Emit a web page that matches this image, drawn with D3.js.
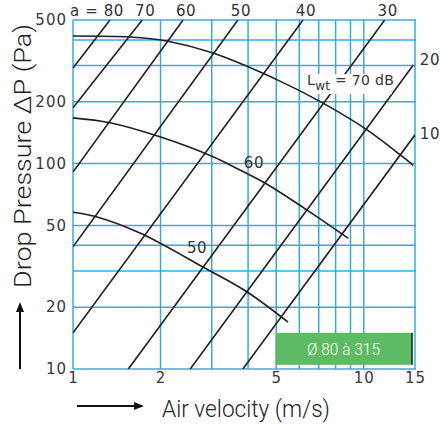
<!DOCTYPE html>
<html>
<head>
<meta charset="utf-8">
<script src="https://cdn.jsdelivr.net/npm/d3@7"></script>
<style>
  body { margin: 0; background: #fff; }
  svg { display: block; }
</style>
</head>
<body>
<div id="chart"></div>
<script>
// axis values
var xGrid = [1, 2, 3, 4, 5, 6, 7, 8, 9, 10, 15];
var yGrid = [10, 20, 30, 40, 50, 100, 200, 300, 400, 500];
var xTicks = [1, 2, 5, 10, 15];
var yTicks = [10, 20, 50, 100, 200, 500];

// "a" lines : two points each (velocity, pressure), clipped to the plot
var aNames = ["80", "70", "60", "50", "40", "30", "20", "10"];
var aStart = [[1, 292], [1, 187], [1, 91], [1, 39.3], [1, 15], [1.55, 10], [2.53, 10], [3.84, 10]];
var aEnd = [[1.34, 500], [1.73, 500], [2.39, 500], [3.69, 500], [6.18, 500], [11.8, 500], [14.8, 302], [15, 138]];

// sound level curves Lwt (dB)
var lwNames = ["70", "60", "50"];
var lwVel = [
  [1, 1.57, 2.1, 3.03, 5.15, 7.24, 10.26, 13.6, 14.8],
  [1, 1.34, 1.99, 3.03, 3.75, 4.57, 6.38, 8.83],
  [1, 1.21, 1.70, 2.84, 3.97, 5.49]
];
var lwPres = [
  [418, 413, 395, 345, 252, 197, 146, 108, 98],
  [167, 158, 135, 108, 93, 80.4, 59.4, 43.4],
  [58, 55, 45.9, 31, 23.7, 16.9]
];
// where the curve labels sit (velocity, pressure)
var lwLabelAt = [[6.38, 241], [4.19, 95], [2.67, 36.7]];

var svg = d3.select("#chart")
  .append("svg")
    .attr("width", 441)
    .attr("height", 424);

var x = d3.scaleLog().domain([1, 15]).range([73, 415]);
var y = d3.scaleLog().domain([10, 500]).range([369, 20]);

var gridColor = "#35ace0";
var inkColor = "#1e1e1e";

svg.append("defs").append("clipPath")
    .attr("id", "plotclip")
  .append("rect")
    .attr("x", x(1))
    .attr("y", y(500))
    .attr("width", x(15) - x(1))
    .attr("height", y(10) - y(500));

// grid
svg.append("g").selectAll("line")
  .data(xGrid)
  .enter().append("line")
    .attr("x1", function(d) { return x(d); })
    .attr("x2", function(d) { return x(d); })
    .attr("y1", y(500))
    .attr("y2", y(10))
    .attr("stroke", gridColor)
    .attr("stroke-width", 1.5);

svg.append("g").selectAll("line")
  .data(yGrid)
  .enter().append("line")
    .attr("x1", x(1))
    .attr("x2", x(15) + 1)
    .attr("y1", function(d) { return y(d); })
    .attr("y2", function(d) { return y(d); })
    .attr("stroke", gridColor)
    .attr("stroke-width", 1.5);

// tick labels
var yAxis = svg.append("g")
  .attr("transform", "translate(" + x(1) + ",0)")
  .call(d3.axisLeft(y).tickValues(yTicks).tickSize(0).tickPadding(6).tickFormat(d3.format("d")));
var xAxis = svg.append("g")
  .attr("transform", "translate(0," + y(10) + ")")
  .call(d3.axisBottom(x).tickValues(xTicks).tickSize(0).tickPadding(3).tickFormat(d3.format("d")));
[yAxis, xAxis].forEach(function(a) {
  a.select(".domain").remove();
  a.selectAll("text")
    .attr("fill", "#383838")
    .style("font-family", "DejaVu Sans")
    .style("font-size", "15px")
    .style("letter-spacing", "1px");
});

// a lines
var lines = svg.append("g").attr("clip-path", "url(#plotclip)");
lines.selectAll("line")
  .data(aNames)
  .enter().append("line")
    .attr("x1", function(d, i) { return x(aStart[i][0]); })
    .attr("y1", function(d, i) { return y(aStart[i][1]); })
    .attr("x2", function(d, i) { return x(aEnd[i][0]); })
    .attr("y2", function(d, i) { return y(aEnd[i][1]); })
    .attr("stroke", inkColor)
    .attr("stroke-width", 1.6);

// Lwt curves
var curve = d3.line()
  .curve(d3.curveCatmullRom)
  .x(function(d) { return x(d[0]); })
  .y(function(d) { return y(d[1]); });

svg.append("g").selectAll("path")
  .data(lwNames)
  .enter().append("path")
    .attr("d", function(d, i) {
      return curve(lwVel[i].map(function(v, j) { return [v, lwPres[i][j]]; }));
    })
    .attr("fill", "none")
    .attr("stroke", inkColor)
    .attr("stroke-width", 1.6);

var labelFont = function(sel, size) {
  sel.attr("fill", "#333")
    .style("font-family", "DejaVu Sans")
    .style("font-size", size + "px")
    .style("letter-spacing", "0.6px");
};

// top labels of the a lines
svg.append("g").selectAll("text")
  .data(aNames.slice(0, 6))
  .enter().append("text")
    .attr("x", function(d, i) { return x(aEnd[i][0]) + (i == 0 ? 14 : 3); })
    .attr("y", 16)
    .attr("text-anchor", function(d, i) { return i == 0 ? "end" : "middle"; })
    .text(function(d, i) { return i == 0 ? "a = " + d : d; })
    .call(labelFont, 15);

// right side labels
svg.append("g").selectAll("text")
  .data(aNames.slice(6))
  .enter().append("text")
    .attr("x", 430)
    .attr("y", function(d, i) { return y(aEnd[i + 6][1]) + (i == 0 ? 0 : 4); })
    .attr("text-anchor", "middle")
    .text(function(d) { return d; })
    .call(labelFont, 15);

// Lwt labels
var lwLabels = svg.append("g");
lwNames.forEach(function(name, i) {
  var t = lwLabels.append("text")
    .attr("x", x(lwLabelAt[i][0]))
    .attr("y", y(lwLabelAt[i][1]))
    .attr("text-anchor", i == 0 ? "start" : "middle")
    .call(labelFont, i == 0 ? 14 : 15);
  if (i == 0) {
    t.style("letter-spacing", "0.3px");
    t.append("tspan").text("L");
    t.append("tspan").attr("dy", 5).style("font-size", "12px").text("wt");
    t.append("tspan").attr("dy", -5).text(" = " + name + " dB");
    var bb = t.node().getBBox();
    lwLabels.insert("rect", "text")
      .attr("x", bb.x)
      .attr("y", bb.y + 2)
      .attr("width", bb.width - 2)
      .attr("height", bb.height - 1)
      .attr("fill", "#fff");
  } else {
    t.text(name);
  }
});

// green badge
var badge = svg.append("g");
badge.append("rect")
  .attr("x", x(4.97))
  .attr("y", y(15))
  .attr("width", 136)
  .attr("height", 32)
  .attr("fill", "#5dbb63");
badge.append("line")
  .attr("x1", x(4.97) + 136.5)
  .attr("x2", x(4.97) + 136.5)
  .attr("y1", y(15))
  .attr("y2", y(15) + 32)
  .attr("stroke", "#111")
  .attr("stroke-width", 1.5);
badge.append("text")
  .attr("x", x(4.97) + 68)
  .attr("y", y(15) + 22)
  .attr("text-anchor", "middle")
  .attr("fill", "#fff")
  .attr("textLength", 73)
  .attr("lengthAdjust", "spacingAndGlyphs")
  .style("font-family", "Roboto")
  .style("font-weight", 300)
  .style("font-size", "17px")
  .text("Ø 80 à 315");

// axis titles
svg.append("text")
  .attr("transform", "translate(31,156) rotate(-90)")
  .attr("text-anchor", "middle")
  .attr("fill", "#222")
  .attr("textLength", 264)
  .attr("lengthAdjust", "spacingAndGlyphs")
  .style("font-family", "Roboto")
  .style("font-weight", 300)
  .style("font-size", "24px")
  .text("Drop Pressure ΔP (Pa)");

svg.append("text")
  .attr("x", 162)
  .attr("y", 417)
  .attr("fill", "#222")
  .attr("textLength", 168)
  .attr("lengthAdjust", "spacingAndGlyphs")
  .style("font-family", "Roboto")
  .style("font-weight", 300)
  .style("font-size", "24px")
  .text("Air velocity (m/s)");

// arrows
var arrows = svg.append("g").attr("fill", "#111").attr("stroke", "#111");
arrows.append("line").attr("x1", 20).attr("x2", 20).attr("y1", 369).attr("y2", 310).attr("stroke-width", 2);
arrows.append("path").attr("d", "M20,302 L16,312 L24,312 Z").attr("stroke", "none");
arrows.append("line").attr("x1", 77).attr("x2", 136).attr("y1", 406).attr("y2", 406).attr("stroke-width", 2);
arrows.append("path").attr("d", "M144,406 L134,402 L134,410 Z").attr("stroke", "none");
</script>
</body>
</html>
